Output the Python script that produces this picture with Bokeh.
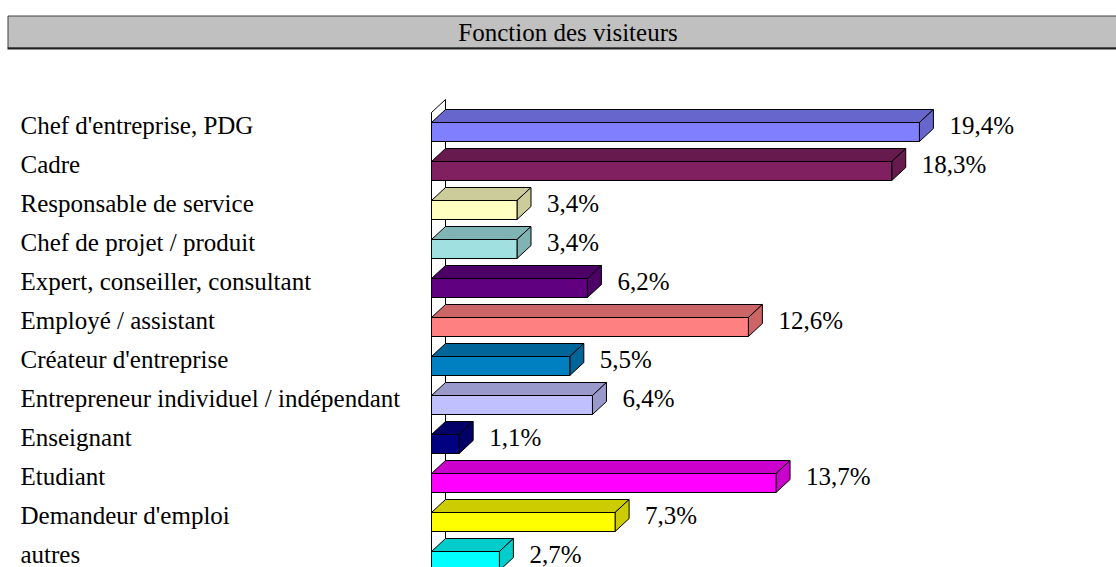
from bokeh.plotting import figure
from bokeh.models import Range1d
from bokeh.core.properties import value
from bokeh.embed import file_html
from bokeh.resources import INLINE

title_text = "Fonction des visiteurs"
categories = [
    "Chef d'entreprise, PDG",
    "Cadre",
    "Responsable de service",
    "Chef de projet / produit",
    "Expert, conseiller, consultant",
    "Employé / assistant",
    "Créateur d'entreprise",
    "Entrepreneur individuel  / indépendant",
    "Enseignant",
    "Etudiant",
    "Demandeur d'emploi",
    "autres",
]
values = [19.4, 18.3, 3.4, 3.4, 6.2, 12.6, 5.5, 6.4, 1.1, 13.7, 7.3, 2.7]
front_colors = ["#8080FF", "#802060", "#FFFFC0", "#A0E0E0", "#600080", "#FF8080",
                "#0080C0", "#C0C0FF", "#000080", "#FF00FF", "#FFFF00", "#00FFFF"]
shade_colors = ["#6666CC", "#661A4D", "#CCCC9A", "#80B3B3", "#4D0066", "#CC6666",
                "#00669A", "#9999CC", "#000066", "#CC00CC", "#CCCC00", "#00CCCC"]

W, H = 1116, 567
PX_PER_UNIT = 25.15      # horizontal scale (px per %)
ZERO_PX = 431            # canvas x of the 0 value
ROW_PX = 39              # px per category row
ROW0_PX = 131.5          # canvas y of first row centre
DEPTH_X, DEPTH_Y = 14, 13
BAR_PX = 19
TEXT_DY = -7

def X(px):
    return (px - ZERO_PX) / PX_PER_UNIT

def Y(py):
    return (py - ROW0_PX) / ROW_PX

dx = DEPTH_X / PX_PER_UNIT
dy = DEPTH_Y / ROW_PX
hb = BAR_PX / 2 / ROW_PX

p = figure(width=W, height=H, output_backend="svg", toolbar_location=None,
           x_range=Range1d(X(0), X(W)), y_range=Range1d(Y(H), Y(0)),
           min_border=0, min_border_left=0, min_border_right=0,
           min_border_top=0, min_border_bottom=0)
p.axis.visible = False
p.grid.visible = False
p.outline_line_color = None
p.background_fill_color = "white"
p.border_fill_color = "white"

FONT = value("Liberation Serif")
FS = "25px"

# title bar
p.quad(left=[X(7.5)], right=[X(W + 5)], top=[Y(15.5)], bottom=[Y(47.5)],
       fill_color="#C0C0C0", line_color="#404040", line_width=1)
p.segment(x0=[X(7)], x1=[X(W + 5)], y0=[Y(48)], y1=[Y(48)],
          line_color="#202020", line_width=2)
p.text(x=[X(567.5)], y=[Y(32)], text=[title_text], text_font=FONT,
       text_font_size=FS, text_align="center", text_baseline="middle",
       text_color="black")

# axis wall
n = len(categories)
wall_top = -0.5
wall_bottom = n + 1
p.line(x=[0, 0], y=[wall_bottom, wall_top], line_color="black", line_width=1)
p.line(x=[0, dx, dx], y=[wall_top, wall_top - dy, wall_bottom - dy],
       line_color="black", line_width=1)

# 3D bars
rows = list(range(n))
top_xs, top_ys, side_xs, side_ys = [], [], [], []
for i, v in zip(rows, values):
    t, b = i - hb, i + hb
    top_xs.append([0, v, v + dx, dx])
    top_ys.append([t, t, t - dy, t - dy])
    side_xs.append([v, v + dx, v + dx, v])
    side_ys.append([t, t - dy, b - dy, b])

p.patches(xs=top_xs, ys=top_ys, fill_color=shade_colors, line_color="black",
          line_width=1)
p.patches(xs=side_xs, ys=side_ys, fill_color=shade_colors, line_color="black",
          line_width=1)
p.quad(left=[0] * n, right=values, top=[i - hb for i in rows],
       bottom=[i + hb for i in rows], fill_color=front_colors,
       line_color="black", line_width=1)

# value labels
labels = [f"{v:.1f}".replace(".", ",") + "%" for v in values]
p.text(x=[v + dx for v in values], y=rows, text=labels, x_offset=16,
       y_offset=TEXT_DY, text_font=FONT, text_font_size=FS, text_align="left",
       text_baseline="alphabetic", text_color="black")

# category labels
p.text(x=[X(20)] * n, y=rows, text=categories, y_offset=TEXT_DY,
       text_font=FONT, text_font_size=FS, text_align="left",
       text_baseline="alphabetic", text_color="black")

open("out.html", "w").write(file_html(p, INLINE))
